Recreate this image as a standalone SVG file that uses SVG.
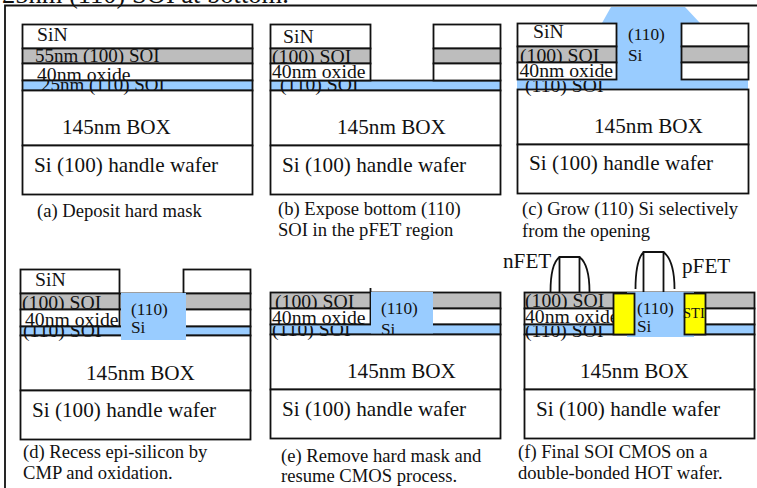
<svg xmlns="http://www.w3.org/2000/svg" width="757" height="488" viewBox="0 0 757 488">
<style>
text{font-family:"Liberation Serif","Times New Roman",serif;fill:#111}
.l{font-size:21.200px}
.c{font-size:19.700px}
.d{font-size:19px}
.s{font-size:18.600px}
.m{font-size:17.300px}
.b{fill:#fff;stroke:#111;stroke-width:1.800}
.g{fill:#bdbdbd;stroke:#111;stroke-width:1.800}
.u{fill:#99ccff;stroke:#111;stroke-width:1.800}
.n{fill:#99ccff}
.y{fill:#ffff00;stroke:#111;stroke-width:1.800}
.k{fill:none;stroke:#111;stroke-width:1.800}
</style>
<defs>
<clipPath id="below80"><rect x="0" y="81" width="757" height="30"/></clipPath>
<clipPath id="below326"><rect x="0" y="327" width="757" height="30"/></clipPath>
<clipPath id="below325"><rect x="0" y="326" width="757" height="30"/></clipPath>
</defs>
<rect width="757" height="488" fill="#fff"/>
<text x="2" y="3" style="font-size:26.500px">25nm (110) SOI at bottom.</text>
<path d="M5 488V5.500H757" fill="none" stroke="#111" stroke-width="1.800"/>
<g id="panel-a">
<rect class="b" x="22.500" y="24.500" width="230" height="24"/>
<rect class="g" x="22.500" y="48.500" width="230" height="15"/>
<text class="d" x="35" y="62">55nm (100) SOI</text>
<rect class="b" x="22.500" y="63.500" width="230" height="17"/>
<text class="c" x="37" y="81">40nm oxide</text>
<rect class="u" x="22.500" y="80.500" width="230" height="10"/>
<rect class="b" x="22.500" y="90.500" width="230" height="55"/>
<rect class="b" x="22.500" y="145.500" width="230" height="49"/>
<text class="c" x="37" y="41">SiN</text>
<text class="d" x="41" y="91" clip-path="url(#below80)">25nm (110) SOI</text>
<text class="l" x="62" y="134">145nm BOX</text>
<text class="l" x="34" y="172">Si (100) handle wafer</text>
<text class="s" x="37" y="217">(a) Deposit hard mask</text>
</g>
<g id="panel-b">
<rect class="u" x="270.500" y="80.500" width="230" height="10"/>
<rect class="b" x="270.500" y="24.500" width="100" height="24"/>
<rect class="g" x="270.500" y="48.500" width="100" height="15"/>
<text class="c" x="272" y="63">(100) SOI</text>
<rect class="b" x="270.500" y="63.500" width="100" height="17"/>
<rect class="b" x="433.500" y="24.500" width="67" height="24"/>
<rect class="g" x="433.500" y="48.500" width="67" height="15"/>
<rect class="b" x="433.500" y="63.500" width="67" height="17"/>
<rect class="b" x="270.500" y="90.500" width="230" height="55"/>
<rect class="b" x="270.500" y="145.500" width="230" height="49"/>
<text class="c" x="283" y="43">SiN</text>
<text class="c" x="272" y="78">40nm oxide</text>
<text class="c" x="280" y="91" clip-path="url(#below80)">(110) SOI</text>
<text class="l" x="337" y="134">145nm BOX</text>
<text class="l" x="282" y="172">Si (100) handle wafer</text>
<text class="s" x="278" y="215">(b) Expose bottom (110)</text>
<text class="s" x="278" y="236">SOI in the pFET region</text>
</g>
<g id="panel-c">
<path class="n" d="M611 7H685L700 23V79H748V89H517V79H602V23Z"/>
<rect class="b" x="517.500" y="23.500" width="99" height="23"/>
<rect class="g" x="517.500" y="46.500" width="99" height="16"/>
<text class="c" x="520" y="62">(100) SOI</text>
<rect class="b" x="517.500" y="62.500" width="99" height="17"/>
<rect class="b" x="681.500" y="23.500" width="67" height="23"/>
<rect class="g" x="681.500" y="46.500" width="67" height="16"/>
<rect class="b" x="681.500" y="62.500" width="67" height="17"/>
<rect class="b" x="517.500" y="89.500" width="231" height="55"/>
<rect class="b" x="517.500" y="144.500" width="231" height="49"/>
<text class="c" x="533" y="38">SiN</text>
<text class="c" x="519.500" y="77">40nm oxide</text>
<text class="c" x="525" y="92" clip-path="url(#below80)">(110) SOI</text>
<text class="m" x="628" y="40">(110)</text>
<text class="m" x="628" y="61">Si</text>
<text class="l" x="594" y="133">145nm BOX</text>
<text class="l" x="529" y="170">Si (100) handle wafer</text>
<text class="s" x="522" y="215">(c) Grow (110) Si selectively</text>
<text class="s" x="522" y="237">from the opening</text>
</g>
<g id="panel-d">
<rect class="b" x="20.500" y="269.500" width="99" height="24"/>
<rect class="b" x="183.500" y="269.500" width="67" height="24"/>
<rect class="g" x="20.500" y="293.500" width="230" height="16"/>
<text class="c" x="22" y="309">(100) SOI</text>
<rect class="b" x="20.500" y="309.500" width="230" height="17"/>
<text class="c" x="25" y="326">40nm oxide</text>
<rect class="u" x="20.500" y="326.500" width="230" height="9"/>
<rect class="b" x="20.500" y="335.500" width="230" height="55"/>
<rect class="b" x="20.500" y="390.500" width="230" height="49"/>
<path class="k" d="M119.500 293V326"/>
<rect class="n" x="121" y="293" width="65" height="47"/>
<text class="c" x="35" y="286">SiN</text>
<text class="c" x="23" y="337" clip-path="url(#below326)">(110) SOI</text>
<text class="m" x="131" y="315">(110)</text>
<text class="m" x="131" y="333">Si</text>
<text class="l" x="86" y="380">145nm BOX</text>
<text class="l" x="32" y="417">Si (100) handle wafer</text>
<text class="s" x="23" y="458">(d) Recess epi-silicon by</text>
<text class="s" x="23" y="479">CMP and oxidation.</text>
</g>
<g id="panel-e">
<rect class="g" x="270.500" y="292.500" width="230" height="16"/>
<text class="c" x="275" y="308">(100) SOI</text>
<rect class="b" x="270.500" y="308.500" width="230" height="16"/>
<text class="c" x="272" y="324">40nm oxide</text>
<rect class="u" x="270.500" y="324.500" width="230" height="10"/>
<path class="k" d="M370.500 288V325"/>
<rect class="n" x="371" y="292" width="62" height="43"/>
<text class="m" x="381" y="314">(110)</text>
<text class="m" x="381" y="335">Si</text>
<rect class="b" x="270.500" y="334.500" width="230" height="55"/>
<rect class="b" x="270.500" y="389.500" width="230" height="49"/>
<text class="c" x="272" y="336" clip-path="url(#below325)">(110) SOI</text>
<text class="l" x="347" y="378">145nm BOX</text>
<text class="l" x="282" y="416">Si (100) handle wafer</text>
<text class="s" x="281" y="462">(e) Remove hard mask and</text>
<text class="s" x="281" y="482">resume CMOS process.</text>
</g>
<g id="panel-f">
<rect class="g" x="524.500" y="292.500" width="230" height="16"/>
<text class="c" x="525" y="307">(100) SOI</text>
<rect class="b" x="524.500" y="308.500" width="230" height="16"/>
<text class="c" x="525" y="323">40nm oxide</text>
<rect class="u" x="524.500" y="324.500" width="230" height="10"/>
<rect class="b" x="524.500" y="334.500" width="230" height="55"/>
<rect class="b" x="524.500" y="389.500" width="230" height="49"/>
<text class="c" x="525" y="337" clip-path="url(#below325)">(110) SOI</text>
<rect class="n" x="627" y="292" width="67" height="45"/>
<rect class="y" x="613.500" y="293.500" width="21" height="41"/>
<rect class="y" x="684.500" y="293.500" width="21" height="41"/>
<path class="k" d="M559.500 292V257H579.500V292M550.500 292C550.500 275 553 262 559.500 257M589.500 292C589.500 275 586 262 579.500 257"/>
<path class="k" d="M643.500 292V252H663.500V292M635.500 289C635.500 270 638 258 643.500 252M674.500 289C674.500 270 671 258 663.500 252"/>
<text class="l" x="503" y="268">nFET</text>
<text class="l" x="682" y="273">pFET</text>
<text class="m" x="637" y="314">(110)</text>
<text class="m" x="637" y="332">Si</text>
<text style="font-size:14.500px" x="683" y="318">STI</text>
<text class="l" x="580" y="378">145nm BOX</text>
<text class="l" x="536" y="416">Si (100) handle wafer</text>
<text class="s" x="518" y="458">(f) Final SOI CMOS on a</text>
<text class="s" x="518" y="479">double-bonded HOT wafer.</text>
</g>
</svg>
